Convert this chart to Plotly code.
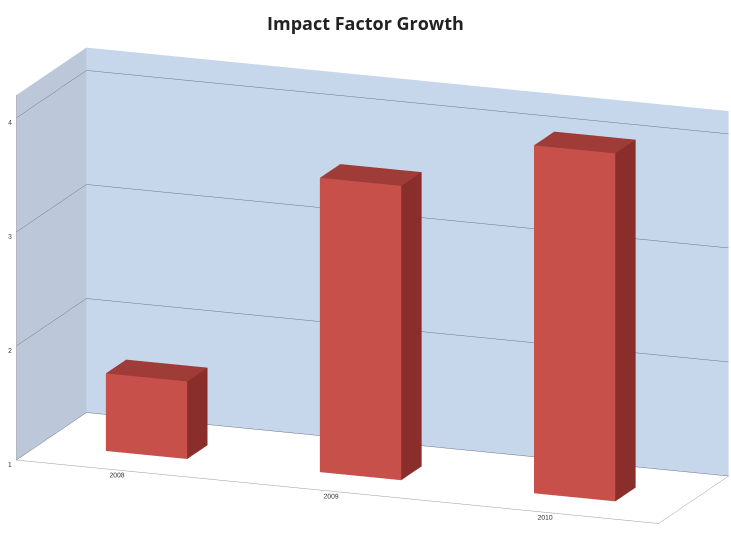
import plotly.graph_objects as go
import math

categories = ["2008", "2009", "2010"]
values = [1.68, 3.58, 4.05]
z_ticks = [1, 2, 3, 4]

bar_half_w = 0.19
depth0, depth1 = 0.33, 0.62
front_col = "#C8504B"
top_col = "#A03C38"
side_col = "#8A2E2B"
left_col = "#B8453F"
back_col = "#8A2E2B"
bottom_col = "#8A2E2B"

fig = go.Figure()
for i, v in enumerate(values):
    x0, x1 = i - bar_half_w, i + bar_half_w
    y0, y1 = depth0, depth1
    z0, z1 = 1, v
    xs = [x0, x1, x1, x0, x0, x1, x1, x0]
    ys = [y0, y0, y1, y1, y0, y0, y1, y1]
    zs = [z0, z0, z0, z0, z1, z1, z1, z1]
    tris = [
        (0, 1, 5), (0, 5, 4),
        (1, 2, 6), (1, 6, 5),
        (4, 5, 6), (4, 6, 7),
        (3, 0, 4), (3, 4, 7),
        (2, 3, 7), (2, 7, 6),
        (0, 3, 2), (0, 2, 1),
    ]
    cols = [front_col] * 2 + [side_col] * 2 + [top_col] * 2 + [left_col] * 2 + [back_col] * 2 + [bottom_col] * 2
    fig.add_trace(go.Mesh3d(
        x=xs, y=ys, z=zs,
        i=[t[0] for t in tris], j=[t[1] for t in tris], k=[t[2] for t in tris],
        facecolor=cols, flatshading=True,
        lighting=dict(ambient=1.0, diffuse=0.0, specular=0.0, roughness=1.0, fresnel=0.0),
        hoverinfo="skip", showscale=False,
    ))

R = 1.0
az = math.radians(20.9)
el = math.radians(15.0)
cx, cy, cz = -0.0252, -0.0096, -0.0516
eye = dict(x=cx + R * math.cos(el) * math.sin(az),
           y=cy - R * math.cos(el) * math.cos(az),
           z=cz + R * math.sin(el))

axis_common = dict(showspikes=False, zeroline=False, title=dict(text=""))
fig.update_layout(
    width=731, height=558,
    margin=dict(l=0, r=0, t=0, b=0),
    paper_bgcolor="white",
    title=dict(text="<b>Impact Factor Growth</b>", x=0.5, xanchor="center", y=0.957, yanchor="middle",
               font=dict(family="Open Sans", size=18, color="#222222")),
    showlegend=False,
    scene=dict(
        domain=dict(x=[0, 1], y=[0, 0.93]),
        aspectmode="manual",
        aspectratio=dict(x=2.649, y=0.757, z=1.456),
        camera=dict(eye=eye, center=dict(x=cx, y=cy, z=cz), up=dict(x=0, y=0, z=1),
                    projection=dict(type="orthographic")),
        xaxis=dict(range=[-0.5, 2.5], tickvals=[0, 1, 2], ticktext=categories, tickangle=0,
                   showgrid=False, showbackground=True, backgroundcolor="#BCC8D9",
                   showline=True, linecolor="#9A9A9A", ticks="",
                   tickfont=dict(family="Liberation Sans", size=9, color="#333333"), **axis_common),
        yaxis=dict(range=[0, 1], showticklabels=False, showgrid=False, showbackground=True,
                   backgroundcolor="#C6D7EC", showline=True, linecolor="#9A9A9A", ticks="", **axis_common),
        zaxis=dict(range=[1, 4.2], tickvals=z_ticks, showgrid=True, gridcolor="#6E7580", gridwidth=1,
                   showbackground=False, showline=True, linecolor="#9A9A9A", ticks="", tickangle=0,
                   tickfont=dict(family="Liberation Sans", size=9, color="#333333"), **axis_common),
    ),
)

fig.write_html("out.html")
